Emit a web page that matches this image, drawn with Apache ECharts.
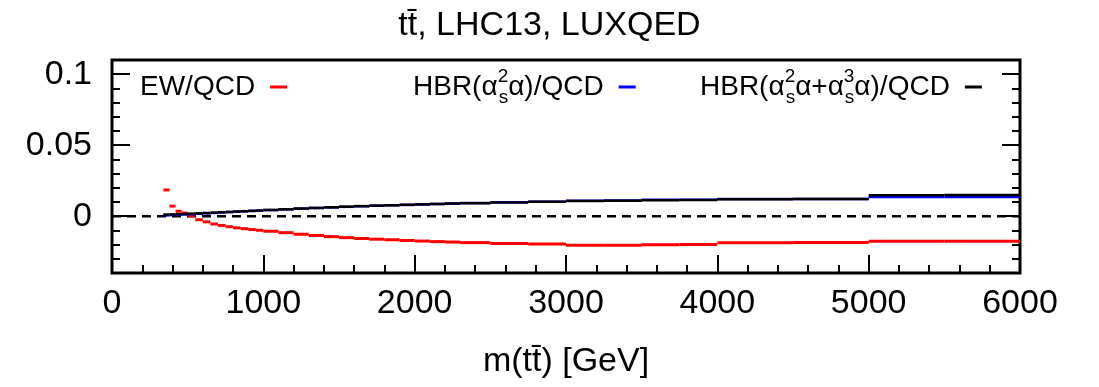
<!DOCTYPE html>
<html>
<head>
<meta charset="utf-8">
<script src="https://cdn.jsdelivr.net/npm/echarts@6/dist/echarts.min.js"></script>
<style>html,body{margin:0;padding:0;background:#fff}#c{width:1099px;height:387px}</style>
</head>
<body>
<div id="c"></div>
<script>
// ---- data ----
const binEdges = [340,380,420,460,500,550,600,650,700,750,800,850,900,950,1000,1100,1200,1300,1400,1500,1600,1700,1800,1900,2000,2100,2200,2300,2500,2750,3000,3250,3500,3750,4000,4500,5000,5500,6000];
const ewQcd = [0.0185,0.0071,0.0035,0.0022,0.0002,-0.0025,-0.0040,-0.0055,-0.0065,-0.0074,-0.0082,-0.0088,-0.0094,-0.0099,-0.0106,-0.0116,-0.0127,-0.0136,-0.0144,-0.0151,-0.0157,-0.0162,-0.0166,-0.0171,-0.0175,-0.0179,-0.0182,-0.0186,-0.0192,-0.0195,-0.0205,-0.0205,-0.0201,-0.0200,-0.0187,-0.0186,-0.0176,-0.0176];
const hbrA = [0.0006,0.0008,0.0010,0.0012,0.0014,0.0017,0.0020,0.0023,0.0026,0.0029,0.0032,0.0034,0.0037,0.0039,0.0043,0.0048,0.0053,0.0058,0.0062,0.0066,0.0070,0.0074,0.0077,0.0080,0.0083,0.0086,0.0089,0.0092,0.0098,0.0102,0.0108,0.0110,0.0115,0.0116,0.0121,0.0122,0.0135,0.0136];
const hbrB = [0.0012,0.0013,0.0014,0.0016,0.0018,0.0020,0.0023,0.0025,0.0028,0.0030,0.0033,0.0035,0.0038,0.0040,0.0044,0.0049,0.0054,0.0058,0.0063,0.0067,0.0071,0.0074,0.0077,0.0080,0.0083,0.0086,0.0089,0.0092,0.0097,0.0101,0.0107,0.0109,0.0113,0.0114,0.0120,0.0121,0.0148,0.0149];
const zeroLine = [[0,0],[6000,0]];
const xTicks = [0,1000,2000,3000,4000,5000,6000];
const yMajor = [0,0.05,0.1];
const seriesNames = ['EW/QCD','HBR(αs²α)/QCD','HBR(αs²α+αs³α)/QCD'];
const legendLabels = {
  'EW/QCD': '{t|EW/QCD}{g|}',
  'HBR(αs²α)/QCD': '{t|HBR(α}{sup|2}{sub|s}{t|α)/QCD}{g|}',
  'HBR(αs²α+αs³α)/QCD': '{t|HBR(α}{sup|2}{sub|s}{t|α+α}{sup|3}{sub|s}{t|α)/QCD}{g|}'
};
// ---- end data ----

const FONT = '"Liberation Sans", Arial, Helvetica, sans-serif';

function bins(vals){ return vals.map((v,i)=>[binEdges[i], binEdges[i+1], v]); }

function stepSeries(name, vals, color, width, z){
  return {
    type: 'custom', name: name, z: z,
    itemStyle: {color: color},
    data: bins(vals),
    encode: {x: [0,1], y: 2},
    renderItem: function(params, api){
      const p1 = api.coord([api.value(0), api.value(2)]);
      const p2 = api.coord([api.value(1), api.value(2)]);
      return {type:'line', shape:{x1:p1[0], y1:p1[1], x2:p2[0], y2:p2[1]},
              style:{stroke: color, lineWidth: width}};
    }
  };
}

const rich = {
  t: {fontSize: 28, fontFamily: FONT, color:'#000', align:'left', lineHeight: 40},
  sup: {fontSize: 19, fontFamily: FONT, color:'#000', verticalAlign:'top', align:'left', width: 1, lineHeight: 24},
  sub: {fontSize: 19, fontFamily: FONT, color:'#000', verticalAlign:'bottom', align:'left', lineHeight: 22},
  g: {width: 10, align:'left'}
};

function legendFor(name, left, top){
  return {
    data: [name], left: left, top: top, align: 'right', orient: 'horizontal',
    icon: 'rect', itemWidth: 17, itemHeight: 3,
    formatter: n => legendLabels[n],
    textStyle: {rich: rich, fontSize: 28, fontFamily: FONT, color:'#000'},
    selectedMode: false
  };
}

function yAxisCommon(pos, isMajor, showLabels){
  const ax = {
    type: 'value', position: pos, min: -0.04, max: 0.11,
    splitLine: {show:false}, axisLine: {show:false, onZero:false},
    axisTick: {show:true, inside:true, length: isMajor?18:8, lineStyle:{color:'#000', width:2}},
    axisLabel: {show:false}
  };
  if (isMajor) {
    ax.axisTick.customValues = yMajor;
    ax.axisLabel = {show: showLabels, customValues: yMajor, fontSize: 34, fontFamily: FONT, color:'#000', margin: 20,
      formatter: v => String(parseFloat(Number(v).toFixed(3)))};
  } else {
    ax.interval = 0.01;
  }
  return ax;
}

const chart = echarts.init(document.getElementById('c'), null, {renderer:'canvas'});
chart.setOption({
  animation: false,
  backgroundColor: '#fff',
  title: {text: 'tt\u0304, LHC13, LUXQED', left: 'center', top: 4,
    textStyle: {fontSize: 34, fontWeight: 'normal', fontFamily: FONT, color:'#000'}},
  legend: [legendFor(seriesNames[0], 135, 68), legendFor(seriesNames[1], 408, 62), legendFor(seriesNames[2], 695, 62)],
  grid: {left: 112, right: 79, top: 60, bottom: 114, show: true, borderColor:'#000', borderWidth: 3, backgroundColor:'transparent'},
  xAxis: [{
    type: 'value', min: 0, max: 6000, interval: 1000, position: 'bottom',
    splitLine: {show:false}, axisLine: {show:false, onZero:false},
    axisTick: {show:true, inside:true, length:18, lineStyle:{color:'#000', width:2}},
    minorTick: {show:true, splitNumber:5, length:8, lineStyle:{color:'#000', width:2}},
    axisLabel: {fontSize: 34, fontFamily: FONT, color:'#000', margin: 14, formatter: v => String(v)},
    name: 'm(tt\u0304) [GeV]', nameLocation: 'middle', nameGap: 72,
    nameTextStyle: {fontSize: 34, fontFamily: FONT, color:'#000'}
  }],
  yAxis: [
    yAxisCommon('left', false, false),
    yAxisCommon('left', true, true),
    yAxisCommon('right', false, false),
    yAxisCommon('right', true, false)
  ],
  series: [
    {type:'line', name:'zero', data: zeroLine, symbol:'none', silent:true, z:1,
     lineStyle:{color:'#000', width:2.5, type:[9,6]}},
    stepSeries(seriesNames[0], ewQcd, '#ff0000', 3, 3),
    stepSeries(seriesNames[1], hbrA, '#0000ff', 2.5, 4),
    stepSeries(seriesNames[2], hbrB, '#000000', 2.5, 5)
  ]
});
</script>
</body>
</html>
